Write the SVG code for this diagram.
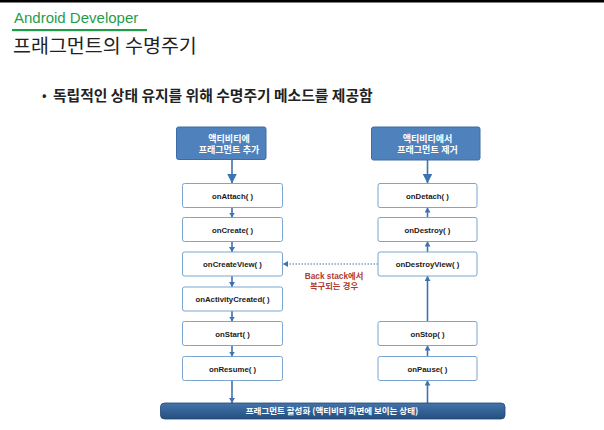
<svg xmlns="http://www.w3.org/2000/svg" width="604" height="430" viewBox="0 0 604 430">
<defs>
<style>
.kr{font-family:"Noto Sans CJK KR","Liberation Sans",sans-serif}
.lk{font-family:"Liberation Sans","Noto Sans CJK KR",sans-serif}
.m{font-family:"Liberation Sans","Noto Sans CJK KR",sans-serif;font-size:7.8px;font-weight:bold;fill:#1a1a1a;text-anchor:middle}
.box{fill:#ffffff;stroke:#7aa5d0;stroke-width:1}
.hdr{fill:#4f81bd;stroke:#3d6ca8;stroke-width:1}
.ht{font-family:"Liberation Sans","Noto Sans CJK KR",sans-serif;font-size:9px;font-weight:bold;fill:#ffffff;text-anchor:middle}
.ar{stroke:#3f72b0;stroke-width:1.6;fill:none}
</style>
<marker id="big" markerUnits="userSpaceOnUse" markerWidth="10" markerHeight="10" viewBox="0 0 10 10" refX="10" refY="5" orient="auto">
<path d="M0,0 L10,5 L0,10 Z" fill="#3f72b0"/>
</marker>
<marker id="sm" markerUnits="userSpaceOnUse" markerWidth="5" markerHeight="6" viewBox="0 0 5 6" refX="5" refY="3" orient="auto">
<path d="M0,0 L5,3 L0,6 Z" fill="#3f72b0"/>
</marker>
<linearGradient id="bar" x1="0" y1="0" x2="0" y2="1">
<stop offset="0" stop-color="#4474aa"/>
<stop offset="1" stop-color="#244f80"/>
</linearGradient>
</defs>
<rect x="0" y="0" width="604" height="430" fill="#ffffff"/>
<rect x="0" y="0" width="604" height="2.5" fill="#000000"/>

<g id="heading">
<text x="14" y="22.5" font-family="Liberation Sans, Arial, sans-serif" font-size="15" fill="#1f9d4c">Android Developer</text>
<rect x="12" y="29" width="135" height="2.2" fill="#1f9d4c"/>
<text x="13" y="52.5" class="kr" font-size="19.5" fill="#222222">프래그먼트의 수명주기</text>
<text x="42" y="100" class="kr" font-size="12" font-weight="bold" fill="#222222">•</text>
<text x="53" y="100.5" class="kr" font-size="14.8" font-weight="bold" fill="#222222">독립적인 상태 유지를 위해 수명주기 메소드를 제공함</text>
</g>

<g id="connectors">
<line class="ar" x1="232" y1="159.5" x2="232" y2="183.5" marker-end="url(#big)"/>
<line class="ar" x1="232" y1="207.5" x2="232" y2="217.5" marker-end="url(#sm)"/>
<line class="ar" x1="232" y1="241.5" x2="232" y2="252" marker-end="url(#sm)"/>
<line class="ar" x1="232" y1="276" x2="232" y2="287" marker-end="url(#sm)"/>
<line class="ar" x1="232" y1="311" x2="232" y2="321.5" marker-end="url(#sm)"/>
<line class="ar" x1="232" y1="345.5" x2="232" y2="356.5" marker-end="url(#sm)"/>
<line class="ar" x1="232" y1="380.5" x2="232" y2="403" marker-end="url(#sm)"/>
<line class="ar" x1="427.5" y1="160" x2="427.5" y2="183.5" marker-end="url(#big)"/>
<line class="ar" x1="427.5" y1="217.5" x2="427.5" y2="207.5" marker-end="url(#sm)"/>
<line class="ar" x1="427.5" y1="252" x2="427.5" y2="241.5" marker-end="url(#sm)"/>
<line class="ar" x1="427.5" y1="321.5" x2="427.5" y2="276" marker-end="url(#sm)"/>
<line class="ar" x1="427.5" y1="356.5" x2="427.5" y2="345.5" marker-end="url(#sm)"/>
<line class="ar" x1="427.5" y1="403" x2="427.5" y2="380.5" marker-end="url(#sm)"/>
<line x1="378" y1="264" x2="283" y2="264" stroke="#3f72b0" stroke-width="1.1" stroke-dasharray="1.5 1.5" marker-end="url(#sm)"/>
<text id="backstack-label" class="lk" font-size="8.3" font-weight="bold" fill="#b03a2e" text-anchor="middle"><tspan x="334" y="278.5">Back stack에서</tspan><tspan x="334" y="288.5">복구되는 경우</tspan></text>
</g>

<g id="hdr-add">
<rect class="hdr" x="176.5" y="127" width="89.5" height="32.5" rx="2"/>
<text class="ht"><tspan x="229" y="141.5">액티비티에</tspan><tspan x="229" y="152.5">프래그먼트 추가</tspan></text>
</g>
<g id="hdr-remove">
<rect class="hdr" x="371.5" y="127" width="108.5" height="33" rx="2"/>
<text class="ht"><tspan x="427.5" y="141.5">액티비티에서</tspan><tspan x="427.5" y="152.5">프래그먼트 제거</tspan></text>
</g>

<g id="onAttach"><rect class="box" x="182.5" y="183.5" width="100" height="24" rx="2"/><text class="m" x="232.5" y="198.5">onAttach( )</text></g>
<g id="onCreate"><rect class="box" x="182.5" y="217.5" width="100" height="24" rx="2"/><text class="m" x="232.5" y="232.5">onCreate( )</text></g>
<g id="onCreateView"><rect class="box" x="182.5" y="252" width="100" height="24" rx="2"/><text class="m" x="232.5" y="267">onCreateView( )</text></g>
<g id="onActivityCreated"><rect class="box" x="182.5" y="287" width="100" height="24" rx="2"/><text class="m" x="232.5" y="302">onActivityCreated( )</text></g>
<g id="onStart"><rect class="box" x="182.5" y="321.5" width="100" height="24" rx="2"/><text class="m" x="232.5" y="336.5">onStart( )</text></g>
<g id="onResume"><rect class="box" x="182.5" y="356.5" width="100" height="24" rx="2"/><text class="m" x="232.5" y="371.5">onResume( )</text></g>

<g id="onDetach"><rect class="box" x="378" y="183.5" width="99" height="24" rx="2"/><text class="m" x="427.5" y="198.5">onDetach( )</text></g>
<g id="onDestroy"><rect class="box" x="378" y="217.5" width="99" height="24" rx="2"/><text class="m" x="427.5" y="232.5">onDestroy( )</text></g>
<g id="onDestroyView"><rect class="box" x="378" y="252" width="99" height="24" rx="2"/><text class="m" x="427.5" y="267">onDestroyView( )</text></g>
<g id="onStop"><rect class="box" x="378" y="321.5" width="99" height="24" rx="2"/><text class="m" x="427.5" y="336.5">onStop( )</text></g>
<g id="onPause"><rect class="box" x="378" y="356.5" width="99" height="24" rx="2"/><text class="m" x="427.5" y="371.5">onPause( )</text></g>

<g id="active-bar">
<rect x="160.5" y="403" width="344.5" height="16" rx="4" fill="url(#bar)" stroke="#1f4677" stroke-width="0.8"/>
<text x="332" y="414.2" class="kr" font-size="8.5" font-weight="bold" fill="#ffffff" text-anchor="middle">프래그먼트 활성화 (액티비티 화면에 보이는 상태)</text>
</g>
</svg>
